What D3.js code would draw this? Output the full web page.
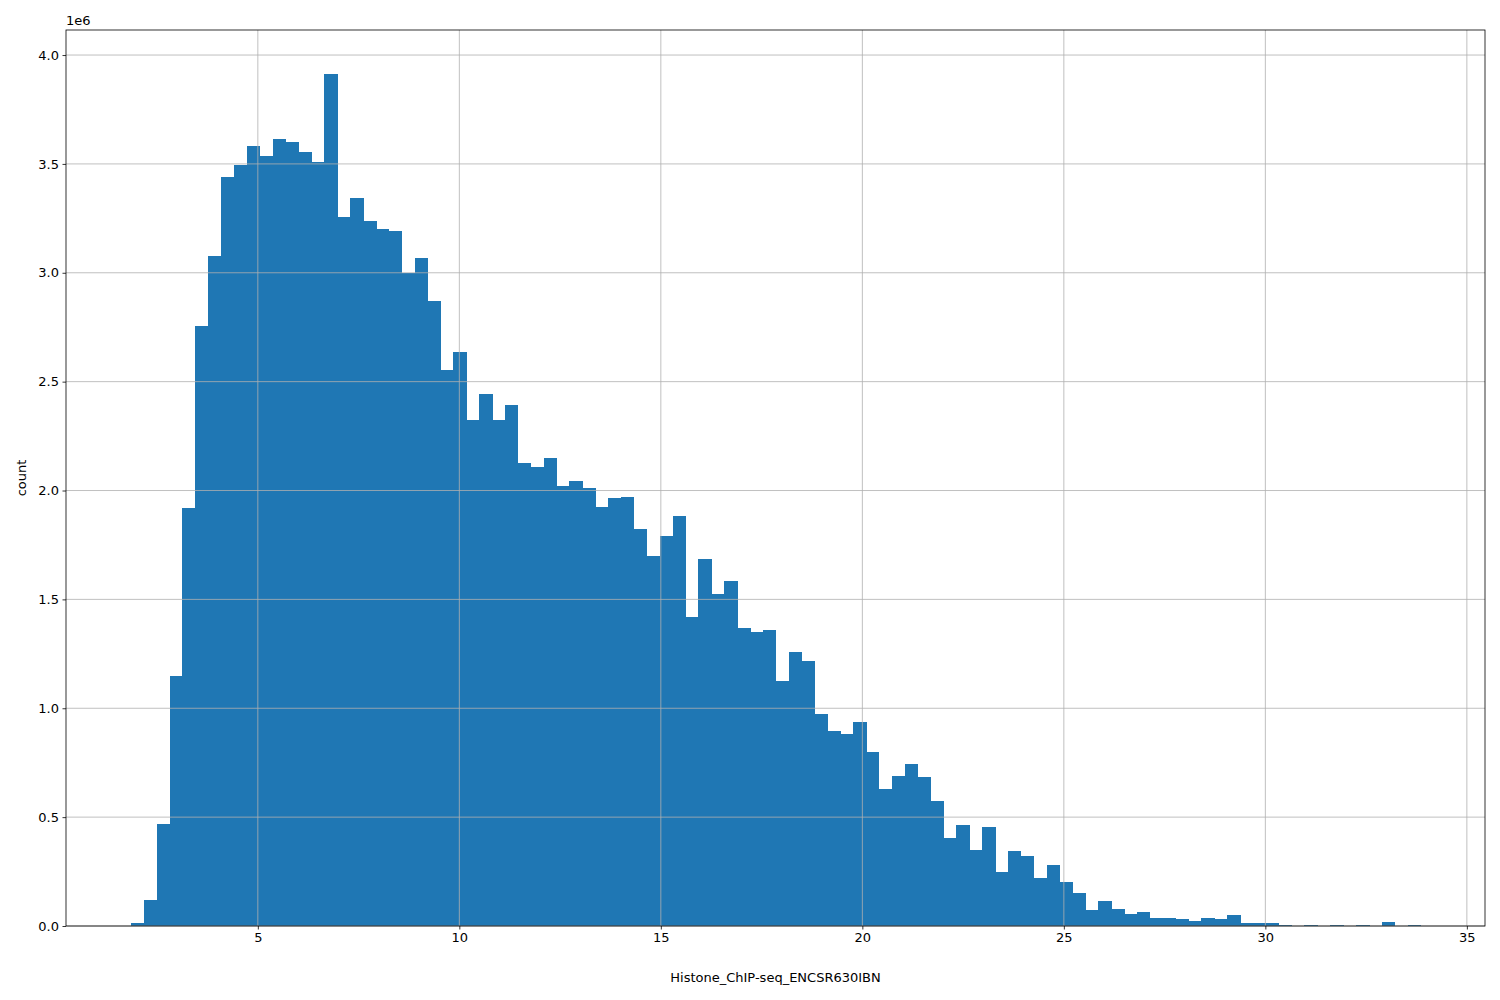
<!DOCTYPE html>
<html><head><meta charset="utf-8">
<script src="https://cdn.jsdelivr.net/npm/d3@7"></script>
<style>body{margin:0;background:#fff}text{font-family:"DejaVu Sans",sans-serif}</style>
</head><body><svg id="c" width="1500" height="1000"></svg>
<script>
const binStart = 1.85;
const binWidth = 0.32;
const counts = [
0.015,0.12,0.47,1.15,1.92,2.755,3.075,3.44,3.495,3.58,
3.535,3.615,3.60,3.555,3.51,3.915,3.255,3.345,3.24,3.20,
3.19,3.0,3.07,2.87,2.555,2.635,2.325,2.445,2.325,2.395,
2.125,2.11,2.15,2.02,2.045,2.01,1.925,1.965,1.97,1.825,
1.70,1.79,1.885,1.42,1.685,1.525,1.585,1.37,1.35,1.36,
1.125,1.26,1.215,0.975,0.895,0.88,0.935,0.80,0.63,0.69,
0.745,0.685,0.575,0.405,0.465,0.35,0.455,0.25,0.345,0.32,
0.22,0.28,0.20,0.15,0.075,0.115,0.08,0.055,0.065,0.035,
0.035,0.03,0.025,0.035,0.03,0.05,0.012,0.012,0.012,0.005,
0,0.004,0,0.004,0,0.004,0,0.02,0,0.004];
const xTicks = [5,10,15,20,25,30,35];
const yTicks = [0,0.5,1.0,1.5,2.0,2.5,3.0,3.5,4.0];

const svg = d3.select("#c");
const L=66,R=1485,T=30,B=926;
const x = d3.scaleLinear().domain([0.24,35.45]).range([L,R]);
const y = d3.scaleLinear().domain([0,4.115]).range([B,T]);

svg.append("g").attr("shape-rendering","crispEdges").selectAll("rect").data(counts).join("rect")
  .attr("x",(d,i)=>x(binStart+i*binWidth))
  .attr("width",(d,i)=>x(binStart+(i+1)*binWidth)-x(binStart+i*binWidth)+0.6)
  .attr("y",d=>y(d)).attr("height",d=>y(0)-y(d)).attr("fill","#1f77b4");

const g = svg.append("g").attr("stroke","#b0b0b0").attr("stroke-width",0.8);
xTicks.forEach(t=>g.append("line").attr("x1",x(t)).attr("x2",x(t)).attr("y1",T).attr("y2",B));
yTicks.forEach(t=>g.append("line").attr("x1",L).attr("x2",R).attr("y1",y(t)).attr("y2",y(t)));

const xa = svg.append("g").attr("transform",`translate(0,${B})`)
  .call(d3.axisBottom(x).tickValues(xTicks).tickSize(3.5).tickPadding(3.5).tickFormat(d3.format("d")));
const ya = svg.append("g").attr("transform",`translate(${L},0)`)
  .call(d3.axisLeft(y).tickValues(yTicks).tickSize(3.5).tickPadding(3.5).tickFormat(d3.format(".1f")));
[xa,ya].forEach(a=>{a.select(".domain").remove();a.selectAll("text").attr("font-size",13).attr("fill","#000").attr("font-family","DejaVu Sans");a.selectAll("line").attr("stroke","#000").attr("stroke-width",0.8);});
svg.append("rect").attr("x",L).attr("y",T).attr("width",R-L).attr("height",B-T).attr("fill","none").attr("stroke","#000").attr("stroke-width",0.8);

svg.append("text").attr("x",L).attr("y",25).attr("font-size",13).text("1e6");
svg.append("text").attr("x",(L+R)/2).attr("y",982).attr("text-anchor","middle").attr("font-size",13).text("Histone_ChIP-seq_ENCSR630IBN");
svg.append("text").attr("transform",`translate(26,${(T+B)/2}) rotate(-90)`).attr("text-anchor","middle").attr("font-size",13).text("count");
</script></body></html>
